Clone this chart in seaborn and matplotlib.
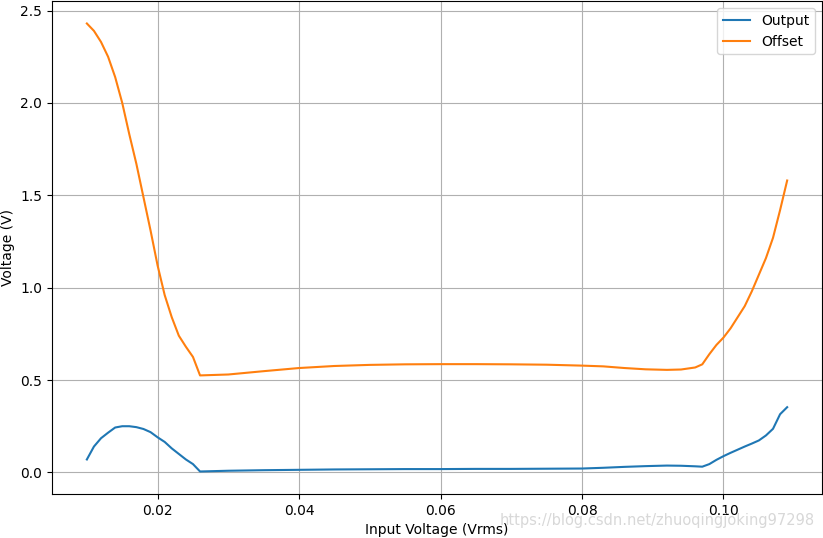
import matplotlib
matplotlib.use("Agg")
import matplotlib.pyplot as plt
import seaborn as sns
import pandas as pd

# Input voltage (Vrms)
vin = [0.010, 0.011, 0.012, 0.013, 0.014, 0.015, 0.016, 0.017, 0.018, 0.019,
       0.020, 0.021, 0.022, 0.023, 0.024, 0.025, 0.026, 0.030, 0.035, 0.040,
       0.045, 0.050, 0.055, 0.060, 0.065, 0.070, 0.075, 0.080, 0.083, 0.086,
       0.089, 0.092, 0.094, 0.096, 0.097, 0.098, 0.099, 0.100, 0.101, 0.102,
       0.103, 0.104, 0.105, 0.106, 0.107, 0.108, 0.109]

output = [0.070, 0.140, 0.185, 0.215, 0.243, 0.250, 0.250, 0.245, 0.235, 0.218,
          0.190, 0.165, 0.130, 0.100, 0.070, 0.045, 0.005, 0.009, 0.012, 0.014,
          0.016, 0.017, 0.018, 0.018, 0.019, 0.019, 0.020, 0.021, 0.025, 0.030,
          0.034, 0.037, 0.036, 0.033, 0.031, 0.045, 0.068, 0.088, 0.106, 0.123,
          0.140, 0.156, 0.173, 0.200, 0.236, 0.315, 0.353]

offset = [2.43, 2.39, 2.33, 2.25, 2.14, 2.00, 1.83, 1.67, 1.49, 1.31,
          1.12, 0.96, 0.84, 0.74, 0.68, 0.625, 0.525, 0.530, 0.548, 0.565,
          0.576, 0.582, 0.585, 0.586, 0.586, 0.585, 0.583, 0.578, 0.574, 0.565,
          0.558, 0.555, 0.557, 0.568, 0.585, 0.640, 0.690, 0.730, 0.780, 0.840,
          0.900, 0.980, 1.070, 1.160, 1.270, 1.420, 1.580]

df = pd.concat([
    pd.DataFrame({"vin": vin, "volt": output, "series": "Output"}),
    pd.DataFrame({"vin": vin, "volt": offset, "series": "Offset"}),
])

fig, ax = plt.subplots(figsize=(8.23, 5.38), dpi=100)
sns.lineplot(data=df, x="vin", y="volt", hue="series",
             palette=["#1f77b4", "#ff7f0e"], estimator=None, sort=False,
             linewidth=1.5, ax=ax)

ax.grid(True, color="#b0b0b0", linewidth=0.8)
ax.set_xlabel("Input Voltage (Vrms)")
ax.set_ylabel("Voltage (V)")
ax.legend(title=None, loc="upper right")

fig.subplots_adjust(left=0.063, right=0.999, top=0.998, bottom=0.082)
# csdn watermark
fig.text(0.99, 0.032, "https://blog.csdn.net/zhuoqingjoking97298",
         ha="right", va="center", fontsize=10.5, color="#d8d8d8")

fig.savefig("out.png", dpi=100)
